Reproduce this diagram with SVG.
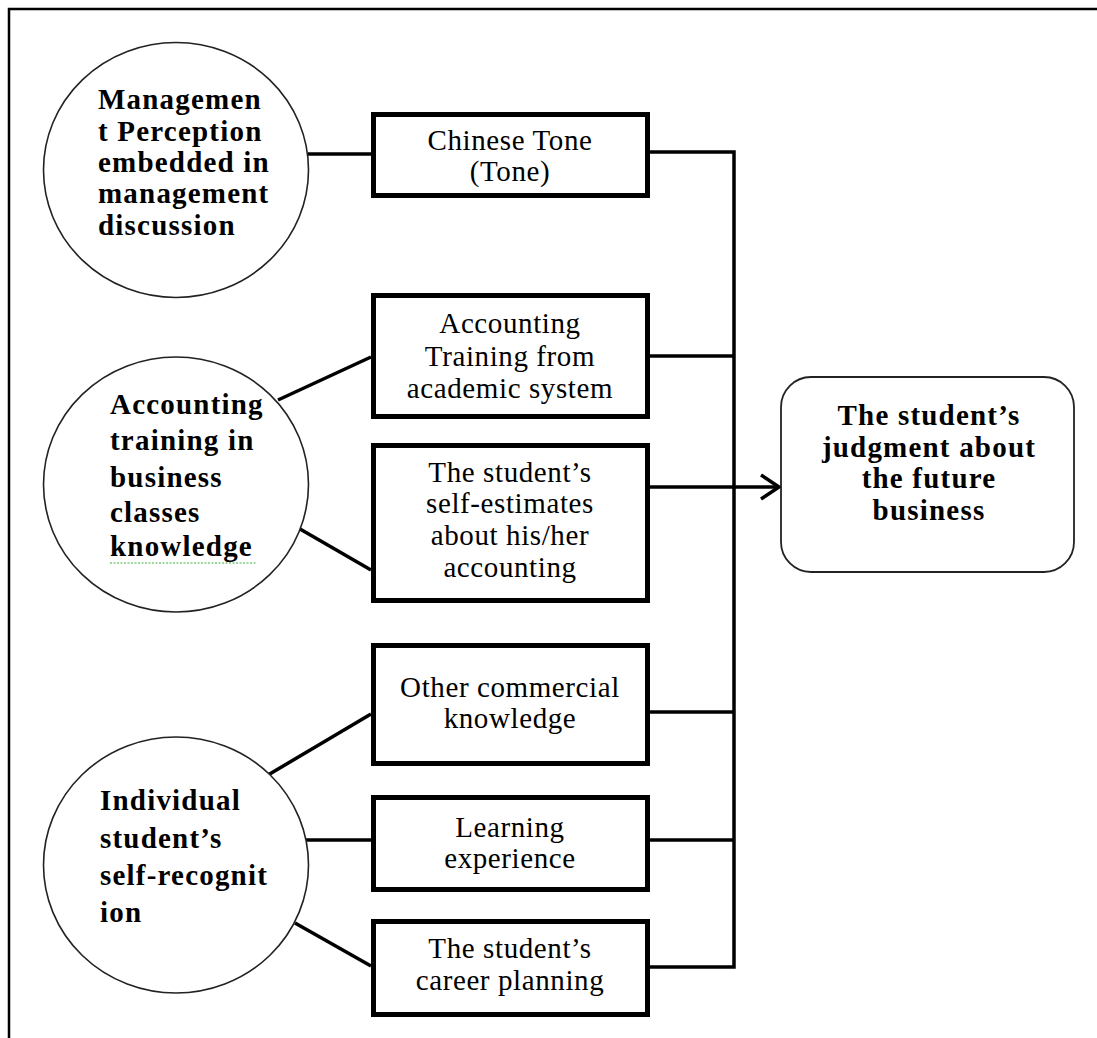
<svg xmlns="http://www.w3.org/2000/svg" width="1097" height="1038" viewBox="0 0 1097 1038">
<style>
.bg{fill:#ffffff}
.frame{stroke:#000;stroke-width:2.5;fill:none}
.circ{fill:#fff;stroke:#222;stroke-width:1.6}
.box{fill:#fff;stroke:#000;stroke-width:5}
.rbox{fill:#fff;stroke:#222;stroke-width:1.8}
.ln{stroke:#000;stroke-width:3.5;fill:none}
.bt{font-family:"Liberation Serif","Times New Roman",serif;font-weight:bold;font-size:29px;letter-spacing:1.2px;fill:#000}
.rt{font-family:"Liberation Serif","Times New Roman",serif;font-size:29px;letter-spacing:0.6px;fill:#000;text-anchor:middle}
</style>
<rect class="bg" x="0" y="0" width="1097" height="1038"/>
<path class="frame" d="M9,1038 V9 H1097"/>

<g id="connectors">
  <line class="ln" x1="308" y1="154" x2="371" y2="154"/>
  <line class="ln" x1="278" y1="400" x2="371" y2="357"/>
  <line class="ln" x1="300" y1="529" x2="371" y2="570"/>
  <line class="ln" x1="268" y1="775" x2="371" y2="714"/>
  <line class="ln" x1="303" y1="840" x2="371" y2="840"/>
  <line class="ln" x1="295" y1="923" x2="371" y2="966"/>
  <path class="ln" d="M650,152 H734 V967 H650"/>
  <line class="ln" x1="650" y1="356" x2="734" y2="356"/>
  <line class="ln" x1="650" y1="712" x2="734" y2="712"/>
  <line class="ln" x1="650" y1="840" x2="734" y2="840"/>
  <line class="ln" x1="650" y1="487" x2="778" y2="487"/>
  <path class="ln" d="M761,475 L779,487 L761,499"/>
</g>

<g id="c1">
  <ellipse class="circ" cx="176" cy="170" rx="132.5" ry="127.5"/>
  <text class="bt" x="98" y="109">Managemen</text>
  <text class="bt" x="98" y="141">t Perception</text>
  <text class="bt" x="98" y="172">embedded in</text>
  <text class="bt" x="98" y="203">management</text>
  <text class="bt" x="98" y="235">discussion</text>
</g>

<g id="c2">
  <ellipse class="circ" cx="176" cy="484.5" rx="132.5" ry="127.5"/>
  <text class="bt" x="110" y="414">Accounting</text>
  <text class="bt" x="110" y="450">training in</text>
  <text class="bt" x="110" y="487">business</text>
  <text class="bt" x="110" y="522">classes</text>
  <text class="bt" x="110" y="556">knowledge</text>
  <line x1="110" y1="563" x2="257" y2="563" stroke="#3bb03b" stroke-width="1.2" stroke-dasharray="2,1.5"/>
</g>

<g id="c3">
  <ellipse class="circ" cx="176" cy="865" rx="132.5" ry="128"/>
  <text class="bt" x="100" y="810">Individual</text>
  <text class="bt" x="100" y="848">student’s</text>
  <text class="bt" x="100" y="885">self-recognit</text>
  <text class="bt" x="100" y="922">ion</text>
</g>

<g id="b1">
  <rect class="box" x="373.5" y="114.5" width="274" height="81"/>
  <text class="rt" x="510" y="150">Chinese Tone</text>
  <text class="rt" x="510" y="181">(Tone)</text>
</g>

<g id="b2">
  <rect class="box" x="373.5" y="295.5" width="274" height="121"/>
  <text class="rt" x="510" y="333">Accounting</text>
  <text class="rt" x="510" y="366">Training from</text>
  <text class="rt" x="510" y="398">academic system</text>
</g>

<g id="b3">
  <rect class="box" x="373.5" y="445.5" width="274" height="155"/>
  <text class="rt" x="510" y="482">The student’s</text>
  <text class="rt" x="510" y="513">self-estimates</text>
  <text class="rt" x="510" y="545">about his/her</text>
  <text class="rt" x="510" y="577">accounting</text>
</g>

<g id="b4">
  <rect class="box" x="373.5" y="645.5" width="274" height="118"/>
  <text class="rt" x="510" y="697">Other commercial</text>
  <text class="rt" x="510" y="728">knowledge</text>
</g>

<g id="b5">
  <rect class="box" x="373.5" y="797.5" width="274" height="92"/>
  <text class="rt" x="510" y="837">Learning</text>
  <text class="rt" x="510" y="868">experience</text>
</g>

<g id="b6">
  <rect class="box" x="373.5" y="921.5" width="274" height="93"/>
  <text class="rt" x="510" y="958">The student’s</text>
  <text class="rt" x="510" y="990">career planning</text>
</g>

<g id="out">
  <rect class="rbox" x="781" y="377" width="293" height="195" rx="30" ry="30"/>
  <text class="bt" x="929" y="425" text-anchor="middle">The student’s</text>
  <text class="bt" x="929" y="457" text-anchor="middle">judgment about</text>
  <text class="bt" x="929" y="488" text-anchor="middle">the future</text>
  <text class="bt" x="929" y="520" text-anchor="middle">business</text>
</g>
</svg>
